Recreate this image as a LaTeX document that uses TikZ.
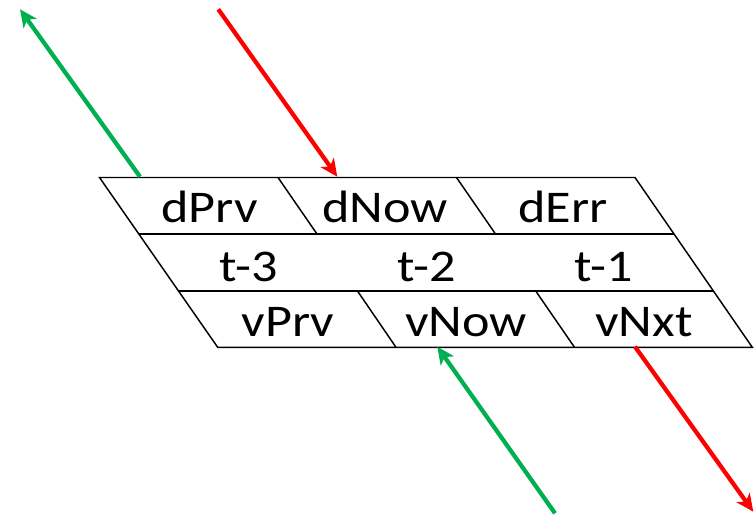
\documentclass[tikz,border=0pt]{standalone}
\usepackage{fontspec}
\setmainfont{Carlito}
\usetikzlibrary{arrows.meta}
\definecolor{pgreen}{RGB}{0,176,80}
\definecolor{pred}{RGB}{255,0,0}
\tikzset{
  grid/.style={line width=1.1pt, black, line join=miter},
  lbl/.style={anchor=base, inner sep=0pt, font=\fontsize{34}{40}\selectfont},
  flow/.style={line width=3.2pt, -{Stealth[length=13pt,width=12pt,inset=3.5pt]}},
  gflow/.style={flow, pgreen},
  rflow/.style={flow, pred}
}
\newcommand{\wide}[1]{\scalebox{1.15}[1]{#1}}
\begin{document}
\begin{tikzpicture}[x=0.75pt,y=-0.75pt]
\useasboundingbox (0,0) rectangle (754,518);
% grid of cells
\coordinate (a1) at (99.5,177.5);  \coordinate (b1) at (635,177.5);
\coordinate (a2) at (138.8,234);   \coordinate (b2) at (674,234);
\coordinate (a3) at (178.5,291);   \coordinate (b3) at (713.4,291);
\coordinate (a4) at (217.7,347.3); \coordinate (b4) at (752.3,347.3);
\draw[grid] (a1) -- (b1) -- (b4) -- (a4) -- cycle;
\draw[grid] (a2) -- (b2);
\draw[grid] (a3) -- (b3);
% dividers
\draw[grid] (278,177.5) -- (317,234);
\draw[grid] (456.5,177.5) -- (495.5,234);
\draw[grid] (357.5,291) -- (396,347.3);
\draw[grid] (535.7,291) -- (574.5,347.3);
% labels
\node[lbl] (dprv) at (209.5,222.3) {\wide{dPrv}};
\node[lbl] (dnow) at (385,222.3) {\wide{dNow}};
\node[lbl] (derr) at (563,222.3) {\wide{dErr}};
\node[lbl] (t3) at (249,281.7) {\wide{t-3}};
\node[lbl] (t2) at (426.5,281.7) {\wide{t-2}};
\node[lbl] (t1) at (604,281.7) {\wide{t-1}};
\node[lbl] (vprv) at (288,336.7) {\wide{vPrv}};
\node[lbl] (vnow) at (466,336.7) {\wide{vNow}};
\node[lbl] (vnxt) at (644,336.7) {\wide{vNxt}};
% arrows
\coordinate (g1s) at (140,176.7);  \coordinate (g1e) at (20,9.3);
\coordinate (r1s) at (218.3,9.3);  \coordinate (r1e) at (337.3,176.7);
\coordinate (g2s) at (555,513.3);  \coordinate (g2e) at (437.3,346.7);
\coordinate (r2s) at (635,346.7);  \coordinate (r2e) at (753.3,511.7);
\draw[gflow] (g1s) -- (g1e);
\draw[rflow] (r1s) -- (r1e);
\draw[gflow] (g2s) -- (g2e);
\draw[rflow] (r2s) -- (r2e);
\end{tikzpicture}
\end{document}
